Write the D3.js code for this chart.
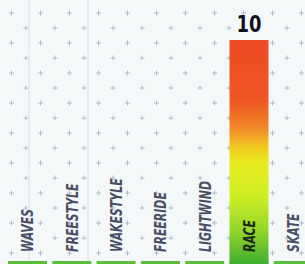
<!DOCTYPE html>
<html><head><meta charset="utf-8">
<script src="https://cdn.jsdelivr.net/npm/d3@7"></script>
<style>html,body{margin:0;padding:0;background:#f4f8f9;overflow:hidden}</style>
</head><body><div id="chart"></div>
<script>
const categories = ["WAVES","FREESTYLE","WAKESTYLE","FREERIDE","LIGHTWIND","RACE","SKATE"];
const values = [0,0,0,0,0,10,0];
const valueLabels = ["","","","","","10",""];
const W = 305, H = 264;
const svg = d3.select("#chart").append("svg").attr("width", W).attr("height", H);
const defs = svg.append("defs");
const pat = defs.append("pattern").attr("id","dots").attr("patternUnits","userSpaceOnUse")
  .attr("width",29).attr("height",30);
[[11.5,13],[26,28]].forEach(([cx,cy])=>{
  pat.append("path").attr("d",`M${cx-2.5},${cy}H${cx+2.5}M${cx},${cy-2.5}V${cy+2.5}`)
    .attr("stroke","#8a90a8").attr("stroke-width",1).attr("opacity",0.6);
});
const grad = defs.append("linearGradient").attr("id","bargrad").attr("x1",0).attr("y1",0).attr("x2",0).attr("y2",1);
[[0,"#ee4a24"],[0.27,"#ef5624"],[0.4,"#f28a28"],[0.48,"#f0cc20"],[0.55,"#e8ec1e"],[0.7,"#cdee24"],[0.85,"#94d62a"],[1,"#3fae2e"]]
  .forEach(([o,c])=>grad.append("stop").attr("offset",o).attr("stop-color",c));

svg.append("rect").attr("width",W).attr("height",H).attr("fill","#f4f8f9");
svg.append("rect").attr("width",W).attr("height",H).attr("fill","url(#dots)");
[29,88].forEach(x=>svg.append("line").attr("x1",x).attr("x2",x).attr("y1",0).attr("y2",H)
  .attr("stroke","#c8ccd4").attr("stroke-width",1).attr("opacity",0.5));

const x = d3.scaleBand().domain(categories).range([8, 312.8]).paddingInner(0.12);
const y = d3.scaleLinear().domain([0,10]).range([261,40]);
const data = categories.map((c,i)=>({c, v:values[i], l:valueLabels[i]}));

svg.selectAll(".strip").data(data).join("rect").attr("class","strip")
  .attr("x",d=>x(d.c)).attr("width",x.bandwidth())
  .attr("y",y(0)).attr("height",H-y(0)).attr("fill","#5cbc3c");
svg.selectAll(".bar").data(data.filter(d=>d.v>0)).join("rect").attr("class","bar")
  .attr("x",d=>x(d.c)).attr("width",x.bandwidth())
  .attr("y",d=>y(d.v)).attr("height",d=>H-y(d.v)).attr("fill","url(#bargrad)");

svg.selectAll(".cat").data(data).join("text").attr("class","cat")
  .attr("transform",d=>`translate(${x(d.c)+x.bandwidth()/2+6},252) rotate(-90) scale(0.76,1)`)
  .attr("font-family","'DejaVu Sans Condensed','DejaVu Sans',sans-serif")
  .attr("font-weight","bold").attr("font-style","italic").attr("font-size",16)
  .attr("fill",d=>d.v>0?"#1a2812":"#4a4e64").text(d=>d.c);

svg.selectAll(".val").data(data.filter(d=>d.l)).join("text").attr("class","val")
  .attr("transform",d=>`translate(${x(d.c)+x.bandwidth()/2},${y(d.v)-8}) scale(0.78,1)`)
  .attr("text-anchor","middle")
  .attr("font-family","'DejaVu Sans','Liberation Sans',sans-serif")
  .attr("font-weight","bold").attr("font-size",23).attr("fill","#0e1220")
  .attr("stroke","#ffffff").attr("stroke-width",0.6).attr("paint-order","stroke")
  .text(d=>d.l);
</script></body></html>
